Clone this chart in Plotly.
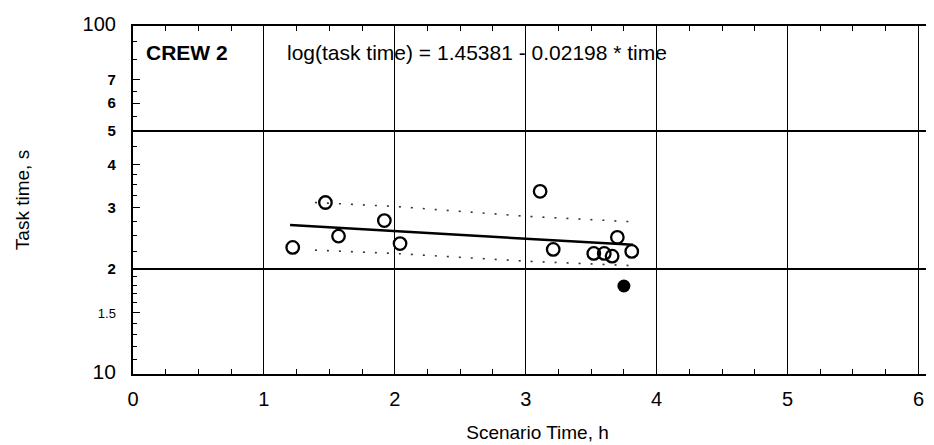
import plotly.graph_objects as go

# Data (task time in the chart's equation units: 10..100)
obs_time = [1.22, 1.47, 1.57, 1.92, 2.04, 3.11, 3.21, 3.52, 3.60, 3.66, 3.70, 3.81]
obs_task = [23.1, 31.1, 24.9, 27.6, 23.7, 33.5, 22.8, 22.2, 22.2, 21.8, 24.7, 22.5]
out_time = [3.75]
out_task = [17.9]

fit_time = [1.2, 3.82]
fit_task = [26.8, 23.5]

band_time = [1.39, 2.0, 3.0, 3.8]
band_upper = [31.1, 30.3, 28.4, 27.4]
band_lower = [22.7, 22.2, 21.1, 20.5]

x_ticks = [0, 1, 2, 3, 4, 5, 6]
y_tickvals = [10, 15, 20, 30, 40, 50, 60, 70, 100]
y_ticktext = ['<span style="font-size:21px">10</span>',
              '<span style="font-size:13px">1.5</span>',
              "<b>2</b>", "<b>3</b>", "<b>4</b>", "<b>5</b>", "<b>6</b>", "<b>7</b>",
              '<span style="font-size:20px">100</span>']
y_minor = [11, 12, 13, 14, 16, 17, 18, 19, 22.5, 25, 27.5, 32.5, 35, 37.5, 45, 55, 65, 80, 90]
y_grid = [20, 50]

FONT = "Liberation Sans, Arial, sans-serif"

fig = go.Figure()

fig.add_trace(go.Scatter(x=band_time, y=band_upper, mode="lines",
                         line=dict(color="#333", width=1.6, dash="2px,10px"),
                         showlegend=False, hoverinfo="skip"))
fig.add_trace(go.Scatter(x=band_time, y=band_lower, mode="lines",
                         line=dict(color="#333", width=1.6, dash="2px,10px"),
                         showlegend=False, hoverinfo="skip"))
fig.add_trace(go.Scatter(x=fit_time, y=fit_task, mode="lines",
                         line=dict(color="black", width=2.5),
                         showlegend=False))
fig.add_trace(go.Scatter(x=obs_time, y=obs_task, mode="markers",
                         marker=dict(symbol="circle-open", size=12.5, color="black",
                                     line=dict(width=2.3, color="black")),
                         showlegend=False))
fig.add_trace(go.Scatter(x=out_time, y=out_task, mode="markers",
                         marker=dict(symbol="circle", size=13, color="black"),
                         showlegend=False))
# invisible trace to carry the grid-only overlay axis
fig.add_trace(go.Scatter(x=[0], y=[20], yaxis="y2", mode="markers",
                         marker=dict(opacity=0), showlegend=False, hoverinfo="skip"))

fig.update_layout(
    width=934, height=445,
    margin=dict(l=125, r=0, t=18, b=79),
    paper_bgcolor="white", plot_bgcolor="white",
    font=dict(family=FONT, color="black", size=19),
    xaxis=dict(
        range=[0, 6.18], tickvals=x_ticks, ticktext=[str(v) for v in x_ticks],
        showgrid=True, gridcolor="black", gridwidth=1.4,
        showline=True, linecolor="black", linewidth=2.4, mirror="ticks",
        ticks="inside", ticklen=0, tickcolor="black",
        minor=dict(dtick=0.25, ticks="inside", ticklen=5, tickcolor="black", tickwidth=1, showgrid=False),
        zeroline=False, tickfont=dict(size=20), ticklabelstandoff=6,
        title=dict(text="Scenario Time, h", font=dict(size=19), standoff=16),
    ),
    yaxis=dict(
        type="log", range=[1, 2], tickvals=y_tickvals, ticktext=y_ticktext,
        showgrid=False, showline=True, linecolor="black", linewidth=2.2, mirror=False,
        ticks="inside", ticklen=7, tickwidth=1.3, tickcolor="black",
        minor=dict(tickvals=y_minor, ticks="inside", ticklen=4, tickcolor="black", tickwidth=1, showgrid=False),
        zeroline=False, tickfont=dict(size=15), ticklabelstandoff=12,
        title=dict(text="Task time, s", font=dict(size=19), standoff=48),
    ),
    yaxis2=dict(
        type="log", range=[1, 2], overlaying="y", side="left", anchor="x",
        tickvals=y_grid, showticklabels=False, ticks="",
        showgrid=True, gridcolor="black", gridwidth=1.6,
        showline=False, zeroline=False,
    ),
    annotations=[
        dict(text="<b>CREW 2</b>", xref="paper", yref="paper", x=0.014, y=0.925,
             xanchor="left", yanchor="middle", showarrow=False, font=dict(size=21)),
        dict(text="log(task time) = 1.45381 - 0.02198 * time", xref="paper", yref="paper",
             x=0.188, y=0.925, xanchor="left", yanchor="middle", showarrow=False,
             font=dict(size=21)),
    ],
)

fig.write_html("out.html")
